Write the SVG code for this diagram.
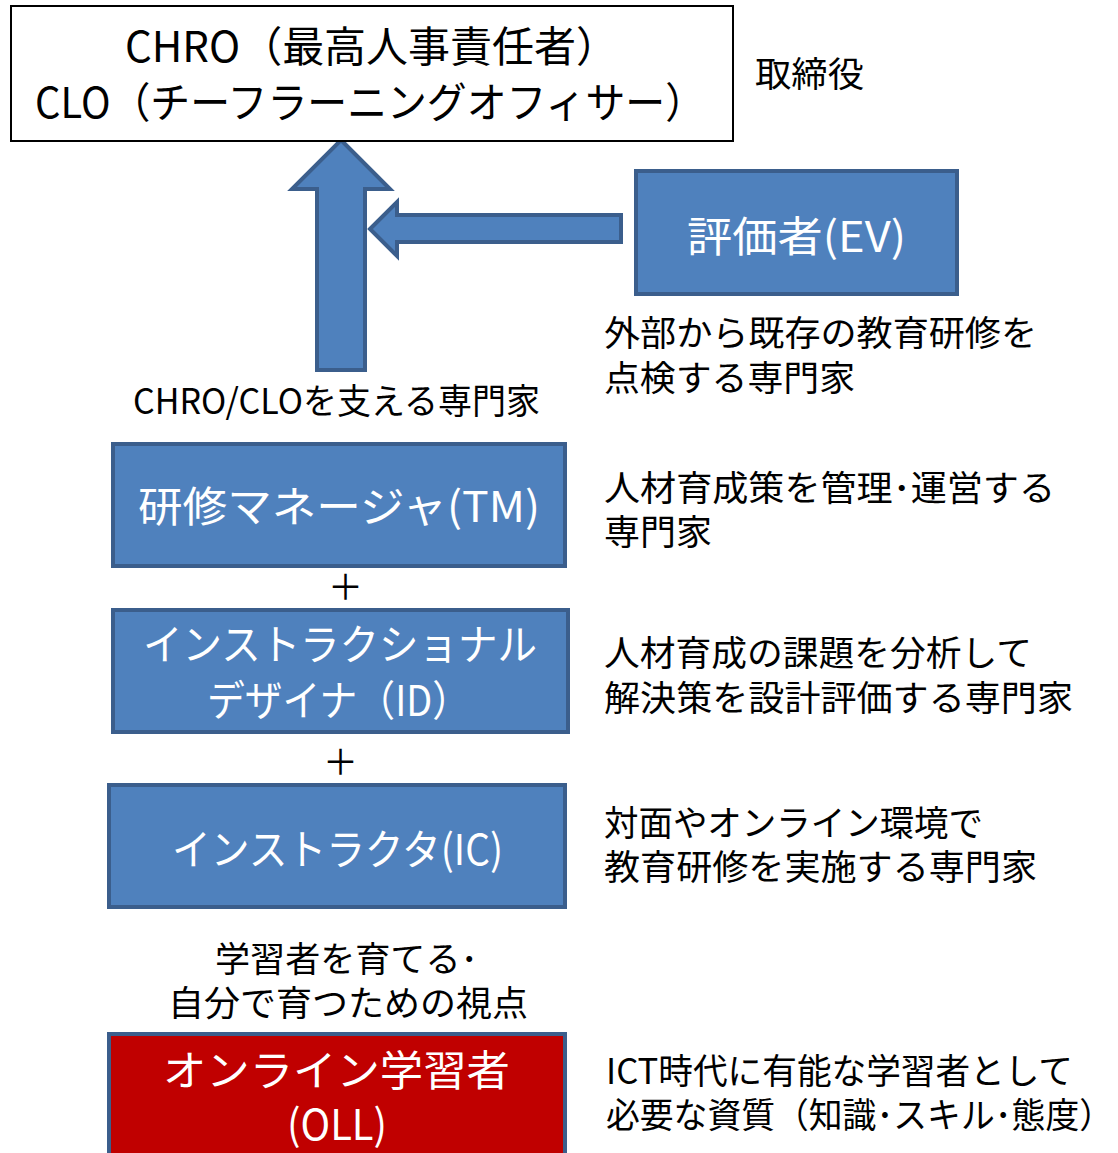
<svg xmlns="http://www.w3.org/2000/svg" width="1118" height="1153" viewBox="0 0 1118 1153">
<style>
text{font-family:"Noto Sans CJK JP","Noto Sans",sans-serif;}
.box{fill:#4F81BD;stroke:#3B5E8C;stroke-width:4;}
.red{fill:#C00000;stroke:#3B5E8C;stroke-width:4;}
.arr{fill:#4F81BD;stroke:#3B5E8C;stroke-width:4;stroke-linejoin:miter;}
.wt{fill:#fff;font-size:42px;}
.bt{fill:#000;font-size:35px;}
</style>
<rect width="1118" height="1153" fill="#fff"/>
<g id="connectors">
<polygon class="arr" points="341,140 390,189 365,189 365,370 317,370 317,189 292,189"/>
<polygon class="arr" points="370,229 397,202 397,215 621,215 621,242 397,242 397,256"/>
</g>
<g id="chro">
<rect x="11" y="6" width="722" height="135" fill="#fff" stroke="#000" stroke-width="2"/>
<text x="125" y="62" font-size="42" textLength="493" lengthAdjust="spacingAndGlyphs">CHRO（最高人事責任者）</text>
<text x="35" y="118" font-size="42" textLength="670" lengthAdjust="spacingAndGlyphs">CLO（チーフラーニングオフィサー）</text>
</g>
<g id="board"><text class="bt" x="755" y="87" textLength="109" lengthAdjust="spacingAndGlyphs">取締役</text></g>
<g id="ev">
<rect class="box" x="636" y="171" width="321" height="123"/>
<text class="wt" x="687" y="252" font-size="46" textLength="219" lengthAdjust="spacingAndGlyphs">評価者(EV)</text>
</g>
<g id="ev-desc">
<text class="bt" x="604" y="346" textLength="433" lengthAdjust="spacingAndGlyphs">外部から既存の教育研修を</text>
<text class="bt" x="604" y="391" textLength="251" lengthAdjust="spacingAndGlyphs">点検する専門家</text>
</g>
<g id="support"><text class="bt" x="133" y="414" font-size="34" textLength="407" lengthAdjust="spacingAndGlyphs">CHRO/CLOを支える専門家</text></g>
<g id="tm">
<rect class="box" x="113" y="444" width="452" height="122"/>
<text class="wt" x="138" y="522" textLength="402" lengthAdjust="spacingAndGlyphs">研修マネージャ(TM)</text>
</g>
<g id="tm-desc">
<text class="bt" x="604" y="501" textLength="451" lengthAdjust="spacingAndGlyphs">人材育成策を管理･運営する</text>
<text class="bt" x="604" y="545" textLength="108" lengthAdjust="spacingAndGlyphs">専門家</text>
</g>
<text class="bt" x="328" y="600">＋</text>
<g id="id">
<rect class="box" x="113" y="610" width="455" height="122"/>
<text class="wt" x="143" y="660" textLength="394" lengthAdjust="spacingAndGlyphs">インストラクショナル</text>
<text class="wt" x="207" y="716" textLength="263" lengthAdjust="spacingAndGlyphs">デザイナ（ID）</text>
</g>
<g id="id-desc">
<text class="bt" x="604" y="666" textLength="428" lengthAdjust="spacingAndGlyphs">人材育成の課題を分析して</text>
<text class="bt" x="604" y="711" textLength="469" lengthAdjust="spacingAndGlyphs">解決策を設計評価する専門家</text>
</g>
<text class="bt" x="323" y="775">＋</text>
<g id="ic">
<rect class="box" x="109" y="785" width="456" height="122"/>
<text class="wt" x="172" y="865" textLength="331" lengthAdjust="spacingAndGlyphs">インストラクタ(IC)</text>
</g>
<g id="ic-desc">
<text class="bt" x="604" y="836" textLength="379" lengthAdjust="spacingAndGlyphs">対面やオンライン環境で</text>
<text class="bt" x="604" y="880" textLength="433" lengthAdjust="spacingAndGlyphs">教育研修を実施する専門家</text>
</g>
<g id="view">
<text class="bt" x="215" y="972" font-size="34" textLength="263" lengthAdjust="spacingAndGlyphs">学習者を育てる･</text>
<text class="bt" x="168" y="1016" font-size="34" textLength="360" lengthAdjust="spacingAndGlyphs">自分で育つための視点</text>
</g>
<g id="oll">
<rect class="red" x="109" y="1034" width="456" height="130"/>
<text class="wt" x="163" y="1086" textLength="347" lengthAdjust="spacingAndGlyphs">オンライン学習者</text>
<text class="wt" x="287" y="1140" textLength="100" lengthAdjust="spacingAndGlyphs">(OLL)</text>
</g>
<g id="oll-desc">
<text class="bt" x="606" y="1084" textLength="467" lengthAdjust="spacingAndGlyphs">ICT時代に有能な学習者として</text>
<text class="bt" x="606" y="1128" textLength="507" lengthAdjust="spacingAndGlyphs">必要な資質（知識･スキル･態度）</text>
</g>
</svg>
